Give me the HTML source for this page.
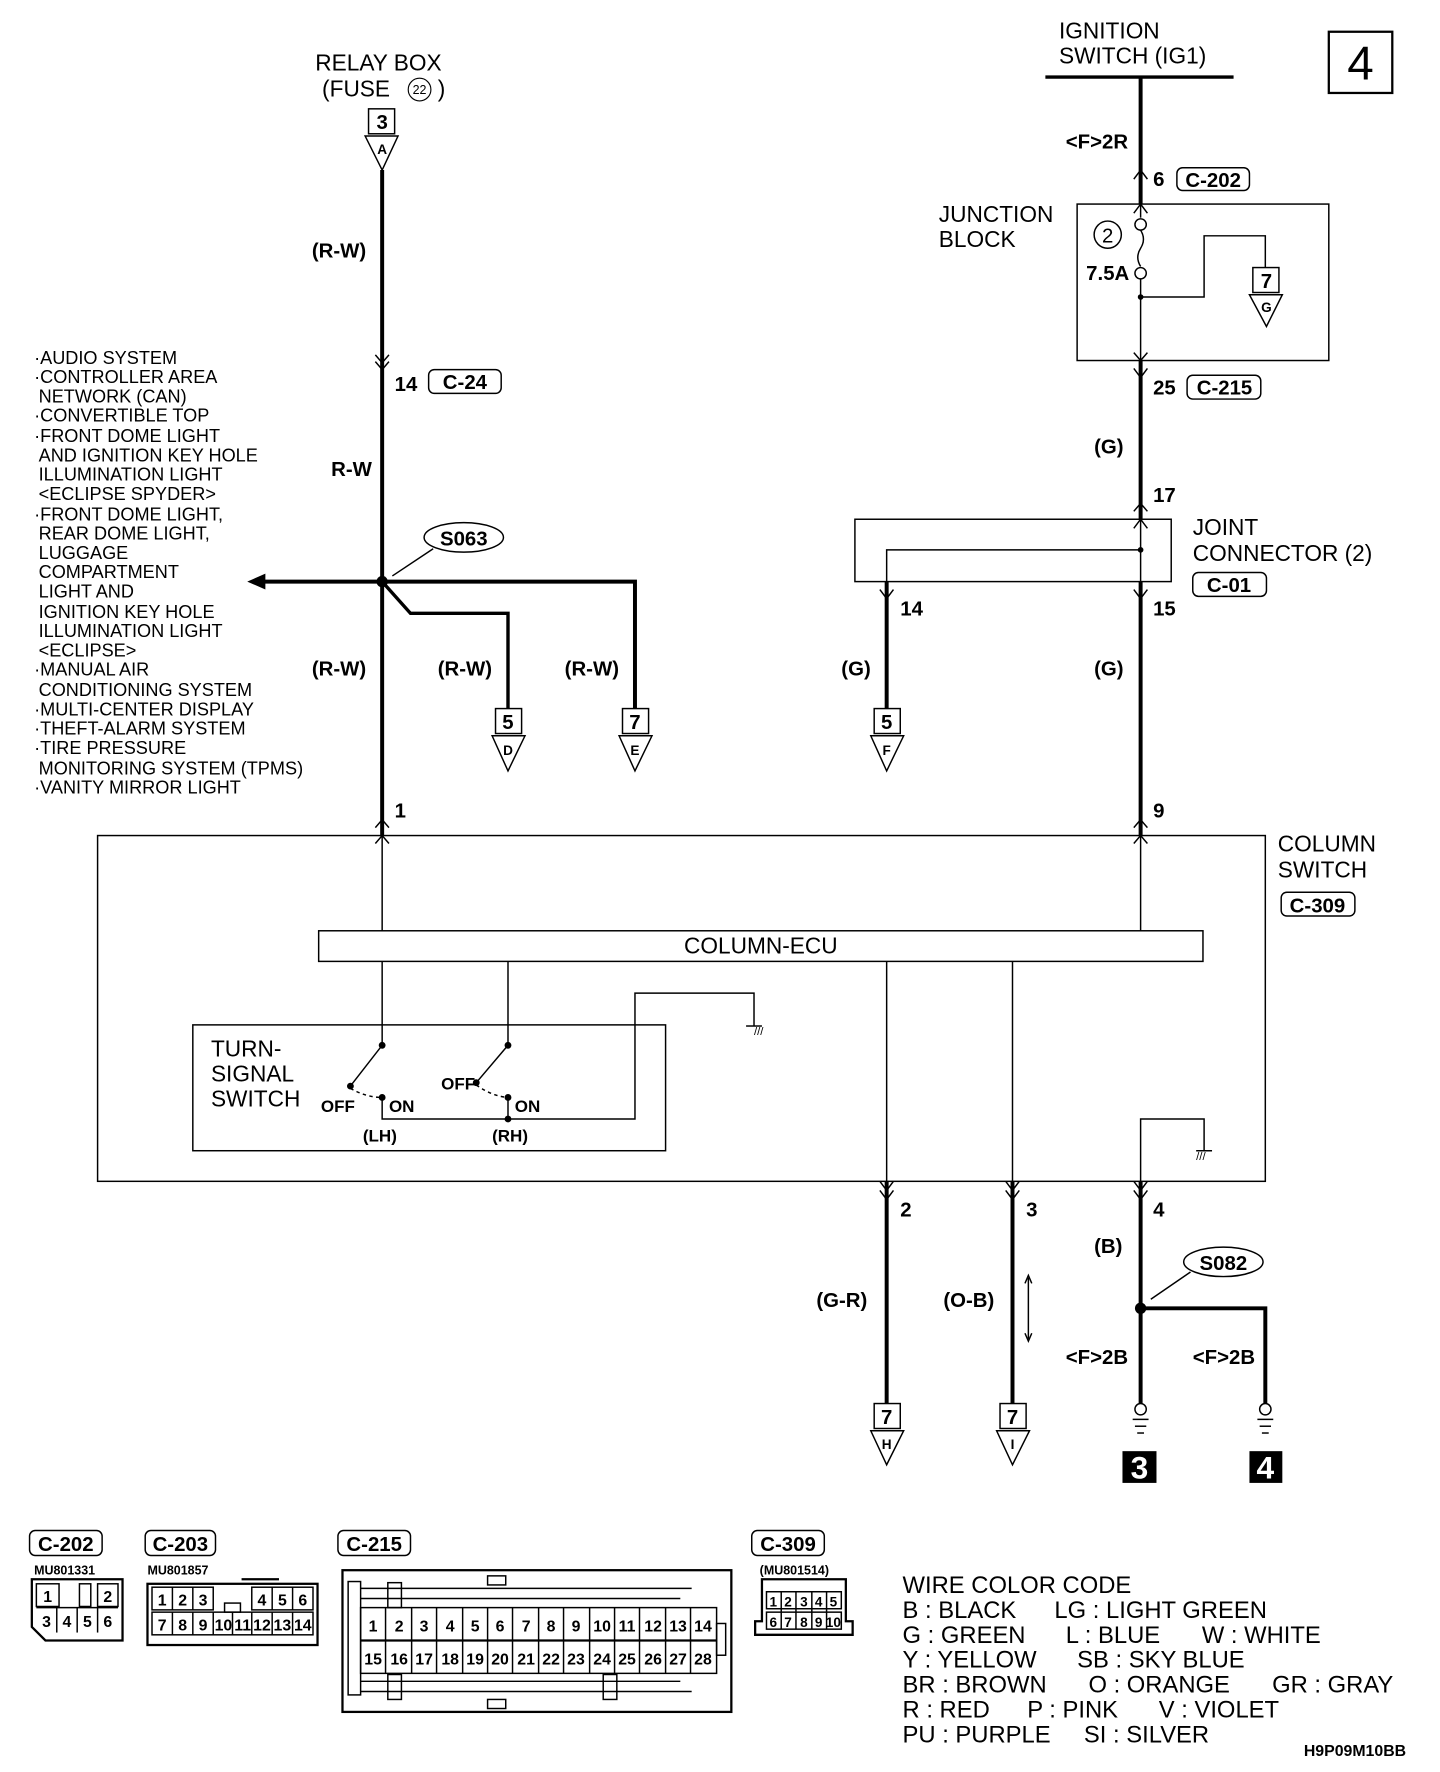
<!DOCTYPE html>
<html><head><meta charset="utf-8"><style>
html,body{margin:0;padding:0;background:#fff;}
svg{display:block;}
text{font-family:"Liberation Sans Narrow","Liberation Sans",sans-serif;fill:#000;}
</style></head><body>
<svg width="1440" height="1772" viewBox="0 0 1270 1563" xmlns="http://www.w3.org/2000/svg">
<g fill="none" stroke="#000" stroke-width="1.3">
<rect x="1172" y="28" width="56" height="54" stroke-width="2"/>
<line x1="922" y1="68" x2="1088" y2="68" stroke-width="3"/>
<line x1="1006" y1="68" x2="1006" y2="180" stroke-width="3.5"/>
<rect x="950" y="180" width="222" height="138"/>
<line x1="1006" y1="180" x2="1006" y2="192"/>
<circle cx="1006" cy="198" r="5"/>
<path d="M1006 203 q5 8 0 16 q-5 8 0 16"/>
<circle cx="1006" cy="241" r="5"/>
<line x1="1006" y1="246" x2="1006" y2="318"/>
<circle cx="977" cy="207" r="12"/>
<polyline points="1006,262 1062,262 1062,208 1116,208 1116,236"/>
<line x1="1006" y1="318" x2="1006" y2="458" stroke-width="3.5"/>
<rect x="754" y="458" width="279" height="55"/>
<line x1="1006" y1="458" x2="1006" y2="513"/>
<polyline points="1006,485 782,485 782,513"/>
<line x1="782" y1="513" x2="782" y2="625" stroke-width="3.5"/>
<line x1="1006" y1="513" x2="1006" y2="737" stroke-width="3.5"/>
<line x1="337" y1="150" x2="337" y2="737" stroke-width="3.5"/>
<polyline points="230,513 560,513 560,625" stroke-width="3.5"/>
<polyline points="337,513 362,541 448,541 448,625" stroke-width="3"/>
<ellipse cx="409" cy="474" rx="35" ry="13"/>
<line x1="382" y1="484" x2="346" y2="508"/>
<rect x="86" y="737" width="1030" height="305"/>
<rect x="281" y="821" width="780" height="27"/>
<line x1="337" y1="737" x2="337" y2="821"/>
<line x1="1006" y1="737" x2="1006" y2="821"/>
<line x1="337" y1="848" x2="337" y2="922"/>
<line x1="448" y1="848" x2="448" y2="922"/>
<line x1="782" y1="848" x2="782" y2="1042"/>
<line x1="893" y1="848" x2="893" y2="1042"/>
<rect x="170" y="904" width="417" height="111"/>
<line x1="337" y1="922" x2="309" y2="958"/>
<line x1="448" y1="922" x2="420" y2="955"/>
<path d="M309 960 q14 8 28 8" stroke-dasharray="3,3"/>
<path d="M420 957 q14 10 28 11" stroke-dasharray="3,3"/>
<polyline points="337,968 337,987 560,987 560,876 665,876 665,905"/>
<line x1="448" y1="968" x2="448" y2="987"/>
<polyline points="1006,1042 1006,987 1062,987 1062,1015"/>
<line x1="658" y1="905" x2="672" y2="905"/>
<line x1="1055" y1="1015" x2="1069" y2="1015"/>
<line x1="782" y1="1042" x2="782" y2="1238" stroke-width="3.5"/>
<line x1="893" y1="1042" x2="893" y2="1238" stroke-width="3.5"/>
<line x1="1006" y1="1042" x2="1006" y2="1238" stroke-width="3.5"/>
<polyline points="1006,1154 1116,1154 1116,1238" stroke-width="3.5"/>
<ellipse cx="1079" cy="1113" rx="35" ry="13"/>
<line x1="1050" y1="1122" x2="1015" y2="1146"/>
<line x1="907" y1="1127" x2="907" y2="1181"/>
<polyline points="904,1132 907,1125 910,1132"/><polyline points="904,1176 907,1183 910,1176"/>
<circle cx="1006" cy="1243" r="5"/><line x1="999" y1="1252" x2="1013" y2="1252"/><line x1="1001" y1="1258" x2="1011" y2="1258"/><line x1="1003" y1="1264" x2="1009" y2="1264"/>
<circle cx="1116" cy="1243" r="5"/><line x1="1109" y1="1252" x2="1123" y2="1252"/><line x1="1111" y1="1258" x2="1121" y2="1258"/><line x1="1113" y1="1264" x2="1119" y2="1264"/>
<g stroke-width="1.3">
<polyline points="1000,158 1006,150 1012,158"/>
<polyline points="1000,188 1006,180 1012,188"/>
<polyline points="1000,311 1006,318 1012,311"/>
<polyline points="1000,325 1006,333 1012,325"/>
<polyline points="1000,466 1006,458 1012,466"/>
<polyline points="776,520 782,528 788,520"/>
<polyline points="1000,520 1006,528 1012,520"/>
<polyline points="1000,744 1006,737 1012,744"/>
<polyline points="331,744 337,737 343,744"/>
<polyline points="331,730 337,723 343,730"/>
<polyline points="331,313 337,320 343,313"/>
<polyline points="331,319 337,326 343,319"/>
<polyline points="776,1042 782,1050 788,1042"/>
<polyline points="776,1050 782,1058 788,1050"/>
<polyline points="887,1042 893,1050 899,1042"/>
<polyline points="887,1050 893,1058 899,1050"/>
<polyline points="1000,1042 1006,1050 1012,1042"/>
<polyline points="1000,1050 1006,1058 1012,1050"/>
<polyline points="1000,730 1006,723 1012,730"/>
<polyline points="1000,451 1006,444 1012,451"/>
</g>
<rect x="325" y="96" width="23" height="22"/><polygon points="322,120 351,120 337,150"/>
<rect x="1105" y="236" width="23" height="22"/><polygon points="1102,260 1131,260 1117,288"/>
<rect x="437" y="625" width="23" height="22"/><polygon points="434,649 463,649 448,680"/>
<rect x="549" y="625" width="23" height="22"/><polygon points="546,649 575,649 560,680"/>
<rect x="771" y="625" width="23" height="22"/><polygon points="768,649 797,649 782,680"/>
<rect x="771" y="1238" width="23" height="22"/><polygon points="768,1262 797,1262 782,1292"/>
<rect x="882" y="1238" width="23" height="22"/><polygon points="879,1262 908,1262 893,1292"/>
<rect x="1038" y="148" width="64" height="20" rx="5"/>
<rect x="1047" y="331" width="65" height="21" rx="5"/>
<rect x="378" y="326" width="64" height="21" rx="5"/>
<rect x="1052" y="505" width="65" height="21" rx="5"/>
<rect x="1130" y="787" width="65" height="21" rx="5"/>
<rect x="26" y="1350" width="64" height="22" rx="5"/>
<rect x="128" y="1350" width="62" height="22" rx="5"/>
<rect x="298" y="1350" width="64" height="22" rx="5"/>
<rect x="663" y="1350" width="64" height="22" rx="5"/>
<path d="M28 1393 H108 V1447 H40 L28 1435 Z" stroke-width="2"/>
<rect x="32" y="1397" width="20" height="20"/><rect x="70" y="1397" width="10" height="20"/><rect x="86" y="1397" width="18" height="20"/>
<line x1="32" y1="1418" x2="104" y2="1418"/>
<line x1="50" y1="1418" x2="50" y2="1440"/><line x1="68" y1="1418" x2="68" y2="1440"/><line x1="86" y1="1418" x2="86" y2="1440"/>
<rect x="130" y="1397" width="150" height="54" stroke-width="2"/>
<line x1="213" y1="1393" x2="246" y2="1393" stroke-width="2"/>
<rect x="134" y="1400" width="54" height="20"/><line x1="152" y1="1400" x2="152" y2="1420"/><line x1="170" y1="1400" x2="170" y2="1420"/>
<rect x="222" y="1400" width="54" height="20"/><line x1="240" y1="1400" x2="240" y2="1420"/><line x1="258" y1="1400" x2="258" y2="1420"/>
<rect x="198" y="1414" width="14" height="8"/>
<rect x="134" y="1422" width="142" height="20"/>
<line x1="152" y1="1422" x2="152" y2="1442"/><line x1="170" y1="1422" x2="170" y2="1442"/><line x1="188" y1="1422" x2="188" y2="1442"/><line x1="205" y1="1422" x2="205" y2="1442"/><line x1="222" y1="1422" x2="222" y2="1442"/><line x1="240" y1="1422" x2="240" y2="1442"/><line x1="258" y1="1422" x2="258" y2="1442"/>
<rect x="302" y="1385" width="343" height="125" stroke-width="2"/>
<rect x="307" y="1395" width="11" height="100"/>
<rect x="318" y="1418" width="314" height="58"/>
<line x1="318" y1="1447" x2="632" y2="1447" stroke-width="2"/>
<line x1="318" y1="1401" x2="610" y2="1401"/><line x1="318" y1="1410" x2="600" y2="1410"/>
<line x1="318" y1="1483" x2="600" y2="1483"/><line x1="318" y1="1492" x2="610" y2="1492"/>
<rect x="342" y="1396" width="12" height="22"/><rect x="342" y="1477" width="12" height="22"/><rect x="532" y="1477" width="12" height="22"/>
<rect x="430" y="1390" width="16" height="8"/><rect x="430" y="1499" width="16" height="8"/>
<rect x="632" y="1432" width="8" height="28"/>
<g>
<line x1="340" y1="1418" x2="340" y2="1476"/><line x1="363" y1="1418" x2="363" y2="1476"/><line x1="385" y1="1418" x2="385" y2="1476"/><line x1="408" y1="1418" x2="408" y2="1476"/><line x1="430" y1="1418" x2="430" y2="1476"/><line x1="452" y1="1418" x2="452" y2="1476"/><line x1="475" y1="1418" x2="475" y2="1476"/><line x1="497" y1="1418" x2="497" y2="1476"/><line x1="520" y1="1418" x2="520" y2="1476"/><line x1="542" y1="1418" x2="542" y2="1476"/><line x1="564" y1="1418" x2="564" y2="1476"/><line x1="587" y1="1418" x2="587" y2="1476"/><line x1="609" y1="1418" x2="609" y2="1476"/>
</g>
<path d="M672 1393 H746 V1430 H752 V1442 H666 V1430 H672 Z" stroke-width="2"/>
<rect x="676" y="1404" width="66" height="15"/><rect x="676" y="1422" width="66" height="15"/>
<line x1="689" y1="1404" x2="689" y2="1437"/><line x1="702" y1="1404" x2="702" y2="1437"/><line x1="716" y1="1404" x2="716" y2="1437"/><line x1="729" y1="1404" x2="729" y2="1437"/>
</g>
<circle cx="337" cy="513" r="5"/>
<polygon points="218,513 234,506 234,520"/>
<circle cx="1006" cy="1154" r="5"/>
<circle cx="1006" cy="262" r="2.5"/><circle cx="1006" cy="485" r="2.5"/>
<circle cx="337" cy="922" r="3"/><circle cx="448" cy="922" r="3"/><circle cx="309" cy="958" r="3"/><circle cx="420" cy="955" r="3"/><circle cx="337" cy="968" r="3"/><circle cx="448" cy="968" r="3"/><circle cx="448" cy="987" r="3"/>
<rect x="990" y="1280" width="30" height="28"/><rect x="1102" y="1280" width="29" height="28"/>
<text x="1200" y="70" font-size="42" text-anchor="middle">4</text>
<g font-size="20">
<text x="934" y="34">IGNITION</text><text x="934" y="56">SWITCH (IG1)</text>
<text x="278" y="62">RELAY BOX</text><text x="284" y="85">(FUSE</text><text x="386" y="85">)</text>
<text x="828" y="196">JUNCTION</text><text x="828" y="218">BLOCK</text>
<text x="1052" y="472">JOINT</text><text x="1052" y="495">CONNECTOR (2)</text>
<text x="1127" y="751">COLUMN</text><text x="1127" y="774">SWITCH</text>
<text x="671" y="841" text-anchor="middle">COLUMN-ECU</text>
<text x="186" y="932">TURN-</text><text x="186" y="954">SIGNAL</text><text x="186" y="976">SWITCH</text>
</g>
<circle cx="370" cy="79" r="10" fill="none" stroke="#000"/><text x="370" y="83" font-size="11" text-anchor="middle">22</text>
<text x="977" y="214" font-size="18" text-anchor="middle">2</text>
<g font-size="18" font-weight="bold">
<text x="337" y="114" text-anchor="middle">3</text><text x="337" y="136" font-size="12" text-anchor="middle">A</text>
<text x="1117" y="254" text-anchor="middle">7</text><text x="1117" y="275" font-size="12" text-anchor="middle">G</text>
<text x="448" y="643" text-anchor="middle">5</text><text x="448" y="666" font-size="12" text-anchor="middle">D</text>
<text x="560" y="643" text-anchor="middle">7</text><text x="560" y="666" font-size="12" text-anchor="middle">E</text>
<text x="782" y="643" text-anchor="middle">5</text><text x="782" y="666" font-size="12" text-anchor="middle">F</text>
<text x="782" y="1256" text-anchor="middle">7</text><text x="782" y="1278" font-size="12" text-anchor="middle">H</text>
<text x="893" y="1256" text-anchor="middle">7</text><text x="893" y="1278" font-size="12" text-anchor="middle">I</text>
<text x="940" y="131">&lt;F&gt;2R</text>
<text x="1017" y="164">6</text><text x="1070" y="165" text-anchor="middle">C-202</text>
<text x="958" y="247">7.5A</text>
<text x="1017" y="348">25</text><text x="1080" y="348" text-anchor="middle">C-215</text>
<text x="965" y="400">(G)</text><text x="1017" y="443">17</text>
<text x="1084" y="522" text-anchor="middle">C-01</text>
<text x="794" y="543">14</text><text x="1017" y="543">15</text>
<text x="742" y="596">(G)</text><text x="965" y="596">(G)</text>
<text x="1017" y="721">9</text><text x="348" y="721">1</text>
<text x="275" y="227">(R-W)</text><text x="348" y="345">14</text><text x="410" y="343" text-anchor="middle">C-24</text>
<text x="292" y="420">R-W</text><text x="409" y="481" text-anchor="middle">S063</text>
<text x="275" y="596">(R-W)</text><text x="386" y="596">(R-W)</text><text x="498" y="596">(R-W)</text>
<text x="1162" y="805" text-anchor="middle">C-309</text>
<text x="794" y="1073">2</text><text x="905" y="1073">3</text><text x="1017" y="1073">4</text>
<text x="720" y="1153">(G-R)</text><text x="832" y="1153">(O-B)</text><text x="965" y="1105">(B)</text>
<text x="1079" y="1120" text-anchor="middle">S082</text>
<text x="940" y="1203">&lt;F&gt;2B</text><text x="1052" y="1203">&lt;F&gt;2B</text>
<text x="1005" y="1304" font-size="28" text-anchor="middle" style="fill:#fff">3</text>
<text x="1116" y="1304" font-size="28" text-anchor="middle" style="fill:#fff">4</text>
<text x="58" y="1368" text-anchor="middle">C-202</text><text x="159" y="1368" text-anchor="middle">C-203</text>
<text x="330" y="1368" text-anchor="middle">C-215</text><text x="695" y="1368" text-anchor="middle">C-309</text>
</g>
<g font-size="15" font-weight="bold">
<text x="283" y="981">OFF</text><text x="343" y="981">ON</text><text x="320" y="1007">(LH)</text>
<text x="389" y="961">OFF</text><text x="454" y="981">ON</text><text x="434" y="1007">(RH)</text>
</g>
<g font-size="11" font-weight="bold">
<text x="30" y="1389">MU801331</text><text x="130" y="1389">MU801857</text><text x="670" y="1389">(MU801514)</text>
<text x="1150" y="1549" font-size="14">H9P09M10BB</text>
</g>
<g font-size="14" font-weight="bold" text-anchor="middle">
<text x="42" y="1413">1</text><text x="95" y="1413">2</text><text x="41" y="1435">3</text><text x="59" y="1435">4</text><text x="77" y="1435">5</text><text x="95" y="1435">6</text>
<text x="143" y="1416">1</text><text x="161" y="1416">2</text><text x="179" y="1416">3</text><text x="231" y="1416">4</text><text x="249" y="1416">5</text><text x="267" y="1416">6</text>
<text x="143" y="1438">7</text><text x="161" y="1438">8</text><text x="179" y="1438">9</text><text x="197" y="1438">10</text><text x="214" y="1438">11</text><text x="231" y="1438">12</text><text x="249" y="1438">13</text><text x="267" y="1438">14</text>
<text x="329" y="1439">1</text><text x="352" y="1439">2</text><text x="374" y="1439">3</text><text x="397" y="1439">4</text><text x="419" y="1439">5</text><text x="441" y="1439">6</text><text x="464" y="1439">7</text><text x="486" y="1439">8</text><text x="508" y="1439">9</text><text x="531" y="1439">10</text><text x="553" y="1439">11</text><text x="576" y="1439">12</text><text x="598" y="1439">13</text><text x="620" y="1439">14</text>
<text x="329" y="1468">15</text><text x="352" y="1468">16</text><text x="374" y="1468">17</text><text x="397" y="1468">18</text><text x="419" y="1468">19</text><text x="441" y="1468">20</text><text x="464" y="1468">21</text><text x="486" y="1468">22</text><text x="508" y="1468">23</text><text x="531" y="1468">24</text><text x="553" y="1468">25</text><text x="576" y="1468">26</text><text x="598" y="1468">27</text><text x="620" y="1468">28</text>
<text x="682" y="1417" font-size="12">1</text><text x="695" y="1417" font-size="12">2</text><text x="709" y="1417" font-size="12">3</text><text x="722" y="1417" font-size="12">4</text><text x="735" y="1417" font-size="12">5</text>
<text x="682" y="1435" font-size="12">6</text><text x="695" y="1435" font-size="12">7</text><text x="709" y="1435" font-size="12">8</text><text x="722" y="1435" font-size="12">9</text><text x="735" y="1435" font-size="12">10</text>
</g>
<g font-size="16">
<text x="30" y="321">·AUDIO SYSTEM</text>
<text x="30" y="338">·CONTROLLER AREA</text>
<text x="34" y="355">NETWORK (CAN)</text>
<text x="30" y="372">·CONVERTIBLE TOP</text>
<text x="30" y="390">·FRONT DOME LIGHT</text>
<text x="34" y="407">AND IGNITION KEY HOLE</text>
<text x="34" y="424">ILLUMINATION LIGHT</text>
<text x="34" y="441">&lt;ECLIPSE SPYDER&gt;</text>
<text x="30" y="459">·FRONT DOME LIGHT,</text>
<text x="34" y="476">REAR DOME LIGHT,</text>
<text x="34" y="493">LUGGAGE</text>
<text x="34" y="510">COMPARTMENT</text>
<text x="34" y="527">LIGHT AND</text>
<text x="34" y="545">IGNITION KEY HOLE</text>
<text x="34" y="562">ILLUMINATION LIGHT</text>
<text x="34" y="579">&lt;ECLIPSE&gt;</text>
<text x="30" y="596">·MANUAL AIR</text>
<text x="34" y="614">CONDITIONING SYSTEM</text>
<text x="30" y="631">·MULTI-CENTER DISPLAY</text>
<text x="30" y="648">·THEFT-ALARM SYSTEM</text>
<text x="30" y="665">·TIRE PRESSURE</text>
<text x="34" y="683">MONITORING SYSTEM (TPMS)</text>
<text x="30" y="700">·VANITY MIRROR LIGHT</text>
</g>
<g font-size="21">
<text x="796" y="1405">WIRE COLOR CODE</text>
<text x="796" y="1427">B : BLACK</text><text x="930" y="1427">LG : LIGHT GREEN</text>
<text x="796" y="1449">G : GREEN</text><text x="940" y="1449">L : BLUE</text><text x="1060" y="1449">W : WHITE</text>
<text x="796" y="1471">Y : YELLOW</text><text x="950" y="1471">SB : SKY BLUE</text>
<text x="796" y="1493">BR : BROWN</text><text x="960" y="1493">O : ORANGE</text><text x="1122" y="1493">GR : GRAY</text>
<text x="796" y="1515">R : RED</text><text x="906" y="1515">P : PINK</text><text x="1022" y="1515">V : VIOLET</text>
<text x="796" y="1537">PU : PURPLE</text><text x="956" y="1537">SI : SILVER</text>
</g>
<text x="665" y="913" font-size="10">///</text>
<text x="1055" y="1023" font-size="10">///</text>
</svg>
</body></html>
